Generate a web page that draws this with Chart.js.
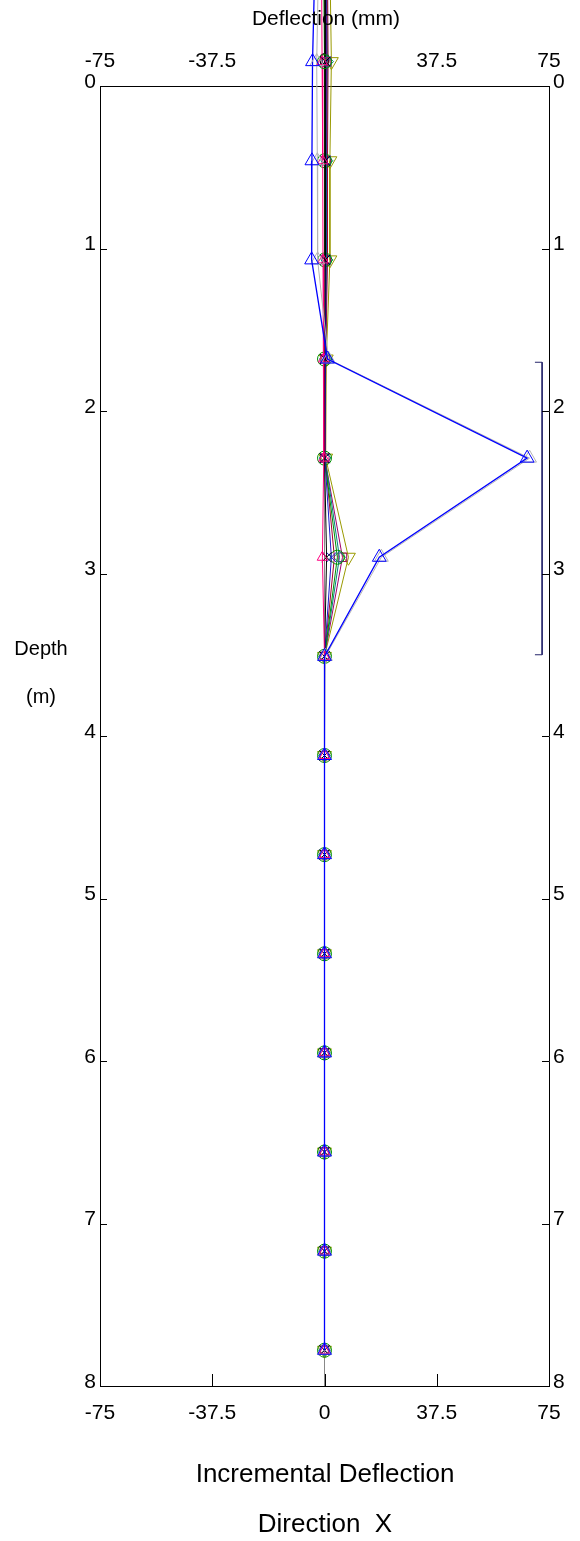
<!DOCTYPE html>
<html>
<head>
<meta charset="utf-8">
<script src="https://cdn.jsdelivr.net/npm/chart.js@4.4.1/dist/chart.umd.min.js"></script>
<style>
    html, body { margin: 0; padding: 0; background: #fff; }
</style>
</head>
<body>
<canvas id="deflection-chart" width="580" height="1541"></canvas>
<script>
////
///////////////////// Data /////////////////////
////

const depths = [-0.76, -0.15, 0.46, 1.07, 1.68, 2.29, 2.90, 3.51, 4.12, 4.73, 5.34, 5.95, 6.56, 7.17, 7.78];

const blueTri    = [-3.2, -4.0, -4.2, -4.3, 1.0, 67.7, 18.3, 0, 0, 0, 0, 0, 0, 0, 0];
const greyTri    = [-2.0, -2.6, -2.4, -2.3, 1.3, 68.5, 19.0, 0.3, 0, 0, 0, 0, 0, 0, 0];
const pinkTri    = [-1.0, -0.8, -0.6, -0.5, -0.3, -0.2, -0.7, 0, 0, 0, 0, 0, 0, 0, 0];
const blackX     = [0.2, 0.3, 0.2, 0.2, 0.1, 0, 0.7, 0, 0, 0, 0, 0, 0, 0, 0];
const navyX      = [0.5, 0.5, 0.4, 0.3, 0.2, 0.1, 2.3, 0, 0, 0, 0, 0, 0, 0, 0];
const greenCirc  = [-0.3, 0, 0, 0.1, 0, 0, 4.3, 0, 0, 0, 0, 0, 0, 0, 0];
const darkRed    = [1.0, 1.2, 1.0, 1.0, 0.4, 0.2, 3.3, 0, 0, 0, 0, 0, 0, 0, 0];
const tealDiam   = [0.8, 1.0, 0.8, 0.8, 0.3, 0.2, 5.0, 0, 0, 0, 0, 0, 0, 0, 0];
const purpleSq   = [0.7, 0.7, 0.6, 0.6, 0.2, 0.1, 6.0, 0, 0, 0, 0, 0, 0, 0, 0];
const oliveDown  = [1.8, 2.3, 1.8, 1.8, 0.6, 0.4, 8.0, 0, 0, 0, 0, 0, 0, 0, 0];

const zeroLine   = [[0, -0.76], [0, 8]];

// bracket marking the moving zone on the right
const zoneDepths = [1.70, 3.50];
const zoneX      = [70.3, 72.7];

const xTicks = [-75, -37.5, 0, 37.5, 75];
const yTicks = [0, 1, 2, 3, 4, 5, 6, 7, 8];

const FONT = "'Liberation Sans', Arial, sans-serif";

const toPoints = (vals) => vals.map((v, i) => ({ x: v, y: depths[i] }));

function series(label, vals, color, style, extra) {
    return Object.assign({
        label: label,
        data: toPoints(vals),
        showLine: true,
        borderColor: color,
        backgroundColor: 'rgba(0,0,0,0)',
        borderWidth: 1,
        pointStyle: style,
        pointRadius: 6,
        pointBorderColor: color,
        pointBorderWidth: 1,
        clip: false
    }, extra || {});
}

const datasets = [
    series('Blue', blueTri, '#0000ff', 'triangle', { pointRadius: 8, borderWidth: 1.3 }),
    series('Grey', greyTri, '#b4b4b4', 'triangle', { pointRadius: 8 }),
    series('Pink', pinkTri, '#ff0080', 'triangle', { pointRadius: 6 }),
    series('Black', blackX, '#000000', 'crossRot', { pointRadius: 7 }),
    series('Navy', navyX, '#1a1acc', 'crossRot', { pointRadius: 7 }),
    series('Green', greenCirc, '#009000', 'circle', { pointRadius: 7 }),
    series('DarkRed', darkRed, '#a00030', 'circle', { pointRadius: 0 }),
    series('Teal', tealDiam, '#008080', 'rectRot', { pointRadius: 6 }),
    series('Purple', purpleSq, '#a0006a', 'rect', { pointRadius: 6 }),
    series('Olive', oliveDown, '#9a9a00', 'triangle', { pointRadius: 8, rotation: 180 }),
    {
        label: 'Zero',
        data: zeroLine.map(p => ({ x: p[0], y: p[1] })),
        showLine: true,
        borderColor: '#888888',
        borderWidth: 1,
        pointRadius: 0,
        clip: false
    },
    {
        label: 'Zone',
        data: [
            { x: zoneX[0], y: zoneDepths[0] },
            { x: zoneX[1], y: zoneDepths[0] },
            { x: zoneX[1], y: zoneDepths[1] },
            { x: zoneX[0], y: zoneDepths[1] }
        ],
        showLine: true,
        borderColor: '#25256a',
        borderWidth: 1,
        pointRadius: 0,
        clip: false
    }
];

////
///////////////////// Points above the frame /////////////////////
////

// chart.js skips points outside the chart area, so redraw those above the top
const outsidePoints = {
    id: 'outsidePoints',
    afterDatasetsDraw(chart) {
        const area = chart.chartArea;
        const bigArea = { left: -1e4, top: -1e4, right: 1e4, bottom: 1e4 };
        const ctx = chart.ctx;
        for (let i = chart.data.datasets.length - 1; i >= 0; i--) {
            const meta = chart.getDatasetMeta(i);
            meta.data.forEach(pt => {
                if (pt.y < area.top) {
                    pt.draw(ctx, bigArea);
                }
            });
        }
    }
};

////
///////////////////// Texts and inward ticks /////////////////////
////

const framePlugin = {
    id: 'frame',
    afterDraw(chart) {
        const ctx = chart.ctx;
        const area = chart.chartArea;
        const xs = chart.scales.x;
        const ys = chart.scales.y;
        ctx.save();
        ctx.strokeStyle = '#000';
        ctx.lineWidth = 1;
        ctx.beginPath();
        yTicks.slice(1, -1).forEach(v => {
            const py = Math.round(ys.getPixelForValue(v)) + 0.5;
            ctx.moveTo(area.left, py);
            ctx.lineTo(area.left + 7, py);
            ctx.moveTo(area.right, py);
            ctx.lineTo(area.right - 7, py);
        });
        xTicks.slice(1, -1).forEach(v => {
            const px = Math.round(xs.getPixelForValue(v)) + 0.5;
            ctx.moveTo(px, area.bottom);
            ctx.lineTo(px, area.bottom - 12);
        });
        ctx.stroke();

        ctx.fillStyle = '#000';
        ctx.textAlign = 'center';
        ctx.textBaseline = 'middle';
        ctx.font = '21px ' + FONT;
        ctx.fillText('Deflection (mm)', 326, 19);
        ctx.font = '20px ' + FONT;
        ctx.fillText('Depth', 41, 649);
        ctx.fillText('(m)', 41, 697);
        ctx.font = '26px ' + FONT;
        ctx.fillText('Incremental Deflection', 325, 1475);
        ctx.fillText('Direction  X', 325, 1525);
        ctx.restore();
    }
};

////
///////////////////// Chart /////////////////////
////

const tickFont = { family: FONT, size: 21 };

const xAxis = (pos, size, pad) => ({
    type: 'linear',
    axis: 'x',
    position: pos,
    min: -75,
    max: 75,
    afterBuildTicks: s => { s.ticks = xTicks.map(v => ({ value: v })); },
    afterFit: s => { s.height = size; },
    grid: { display: false, drawTicks: false },
    border: { display: true, color: '#000', width: 1 },
    ticks: { color: '#000', font: tickFont, padding: pad, maxRotation: 0, callback: v => String(v) }
});

const yAxis = (pos, size) => ({
    type: 'linear',
    axis: 'y',
    position: pos,
    reverse: true,
    min: 0,
    max: 8,
    afterBuildTicks: s => { s.ticks = yTicks.map(v => ({ value: v })); },
    afterFit: s => { s.width = size; },
    grid: { display: false, drawTicks: false },
    border: { display: true, color: '#000', width: 1 },
    ticks: { color: '#000', font: tickFont, padding: 4, labelOffset: -4, callback: v => String(v) }
});

const deflectionChart = new Chart(document.getElementById('deflection-chart'), {
    type: 'scatter',
    data: { datasets: datasets },
    options: {
        responsive: false,
        animation: false,
        devicePixelRatio: 1,
        layout: { padding: 0 },
        scales: {
            x: xAxis('bottom', 155, 15),
            x2: xAxis('top', 86, 12),
            y: yAxis('left', 100),
            y2: yAxis('right', 31)
        },
        plugins: {
            legend: { display: false },
            tooltip: { enabled: false }
        }
    },
    plugins: [outsidePoints, framePlugin]
});
</script>
</body>
</html>
